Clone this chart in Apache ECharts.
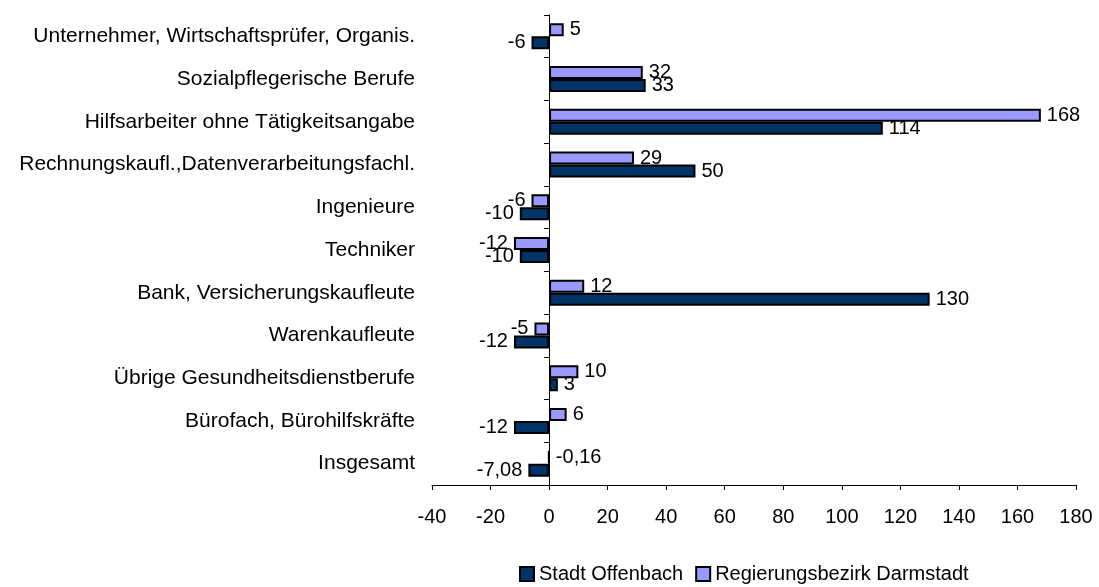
<!DOCTYPE html>
<html>
<head>
<meta charset="utf-8">
<script src="https://cdn.jsdelivr.net/npm/echarts@6/dist/echarts.min.js"></script>
<style>
  html, body { margin: 0; padding: 0; background: #fff; }
  #chart { width: 1099px; height: 587px; }
</style>
</head>
<body>
<div id="chart"></div>
<script>
// Kategorien von unten nach oben
var categories = [
    'Insgesamt',
    'Bürofach, Bürohilfskräfte',
    'Übrige Gesundheitsdienstberufe',
    'Warenkaufleute',
    'Bank, Versicherungskaufleute',
    'Techniker',
    'Ingenieure',
    'Rechnungskaufl.,Datenverarbeitungsfachl.',
    'Hilfsarbeiter ohne Tätigkeitsangabe',
    'Sozialpflegerische Berufe',
    'Unternehmer, Wirtschaftsprüfer, Organis.'
];
var offenbach = [-7.08, -12, 3, -12, 130, -10, -10, 50, 114, 33, -6];
var darmstadt = [-0.16, 6, 10, -5, 12, -12, -6, 29, 168, 32, 5];
var xTicks = [-40, 180, 20]; // min, max, interval

var font = 'Liberation Sans, Arial, sans-serif';

// Beschriftung links bei negativen Werten (sehr kleine Werte bleiben rechts)
function toData(values) {
    return values.map(function (v) {
        return { value: v, label: { position: v <= -1 ? 'left' : 'right' } };
    });
}

function fmt(p) {
    return String(p.value).replace('.', ',');
}

var chart = echarts.init(document.getElementById('chart'));
chart.setOption({
    animation: false,
    textStyle: { fontFamily: font },
    grid: { left: 432, right: 23, top: 15, bottom: 102, containLabel: false },
    legend: {
        left: 514,
        bottom: -2,
        itemWidth: 14,
        itemHeight: 14,
        itemGap: 12,
        icon: 'rect',
        textStyle: { fontSize: 20, color: '#000', fontFamily: font },
        data: ['Stadt Offenbach', 'Regierungsbezirk Darmstadt']
    },
    xAxis: {
        type: 'value',
        min: xTicks[0],
        max: xTicks[1],
        interval: xTicks[2],
        splitLine: { show: false },
        axisLine: { show: true, onZero: false, lineStyle: { color: '#000', width: 1 } },
        axisTick: { show: true, length: 5, lineStyle: { color: '#000' } },
        axisLabel: { fontSize: 20, color: '#000', margin: 22, fontFamily: font }
    },
    yAxis: [{
        type: 'category',
        data: categories,
        axisLine: { show: true, onZero: true, lineStyle: { color: '#000', width: 1 } },
        axisTick: { show: true, length: 5, lineStyle: { color: '#000' } },
        axisLabel: { show: false }
    }, {
        type: 'category',
        data: categories,
        position: 'left',
        axisLine: { show: false, onZero: false },
        axisTick: { show: false },
        axisLabel: { fontSize: 21, color: '#000', margin: 17, fontFamily: font }
    }],
    series: [{
        name: 'Regierungsbezirk Darmstadt',
        type: 'bar',
        yAxisIndex: 0,
        data: toData(darmstadt),
        barWidth: 13,
        barGap: '0%',
        itemStyle: { color: '#9999FF', borderColor: '#000', borderWidth: 2 },
        label: { show: true, distance: 6, fontSize: 20, color: '#000', formatter: fmt, fontFamily: font }
    }, {
        name: 'Stadt Offenbach',
        type: 'bar',
        yAxisIndex: 0,
        data: toData(offenbach),
        barWidth: 13,
        barGap: '0%',
        itemStyle: { color: '#003366', borderColor: '#000', borderWidth: 2 },
        label: { show: true, distance: 6, fontSize: 20, color: '#000', formatter: fmt, fontFamily: font }
    }]
});
</script>
</body>
</html>
